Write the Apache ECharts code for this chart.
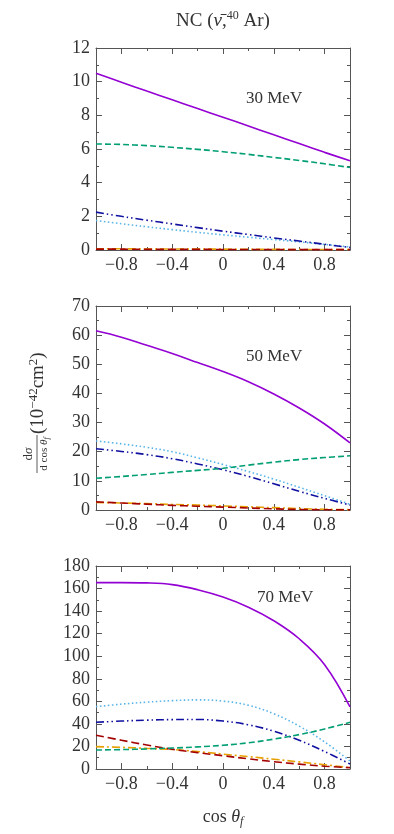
<!DOCTYPE html>
<html>
<head>
<meta charset="utf-8">
<script src="https://cdn.jsdelivr.net/npm/echarts@6.0.0/dist/echarts.min.js"></script>
<style>
  html, body { margin: 0; padding: 0; background: #fff; }
  #chart { width: 394px; height: 834px; }
</style>
</head>
<body>
<div id="chart"></div>
<script>
// cos(theta_f) sample points, shared by every curve
var cosTheta = [-1, -0.8, -0.6, -0.4, -0.2, 0, 0.2, 0.4, 0.6, 0.8, 1];

// 30 MeV
var p30Purple = [10.5, 9.97, 9.44, 8.92, 8.4, 7.89, 7.37, 6.84, 6.32, 5.8, 5.3];
var p30Green = [6.3, 6.27, 6.2, 6.1, 5.98, 5.84, 5.68, 5.5, 5.32, 5.12, 4.9];
var p30Navy = [2.25, 2.0, 1.77, 1.55, 1.33, 1.12, 0.92, 0.72, 0.53, 0.34, 0.15];
var p30Sky = [1.75, 1.56, 1.38, 1.21, 1.05, 0.9, 0.76, 0.62, 0.48, 0.33, 0.18];
var p30Red = [0.05, 0.05, 0.04, 0.04, 0.04, 0.03, 0.03, 0.03, 0.02, 0.02, 0.02];
var p30Orange = [0.07, 0.07, 0.06, 0.06, 0.05, 0.05, 0.04, 0.04, 0.03, 0.03, 0.03];

// 50 MeV
var p50Purple = [61.5, 59.3, 56.5, 53.7, 50.6, 47.5, 44, 39.8, 35, 29.5, 23];
var p50Green = [10.9, 11.5, 12.2, 12.9, 13.6, 14.3, 15.4, 16.4, 17.3, 18.0, 18.6];
var p50Navy = [21.0, 20.1, 19.0, 17.6, 15.8, 13.8, 11.5, 9.0, 6.4, 4.0, 1.7];
var p50Sky = [23.7, 22.7, 21.5, 20.0, 17.9, 15.6, 13.2, 10.6, 7.8, 4.9, 2.0];
var p50Red = [2.8, 2.4, 2.0, 1.6, 1.3, 1.0, 0.7, 0.4, 0.2, 0.08, 0.04];
var p50Orange = [2.6, 2.4, 2.2, 1.9, 1.7, 1.4, 1.1, 0.8, 0.5, 0.25, 0.1];

// 70 MeV
var p70Purple = [165.3, 165.3, 165, 163.5, 159, 152.5, 143.5, 131.5, 115.5, 92.5, 55];
var p70Green = [16.8, 17.2, 17.8, 18.6, 19.6, 21.0, 23.2, 26.5, 30.5, 35.5, 41.4];
var p70Navy = [41.4, 42.5, 43.3, 43.8, 43.9, 42.5, 39.2, 33.5, 25.5, 15.5, 4.4];
var p70Sky = [55.3, 57.5, 59.3, 60.6, 61.3, 60.2, 56.5, 49, 38, 24, 7];
var p70Red = [30, 25.5, 21.3, 17.5, 14.5, 11.8, 9.0, 6.5, 4.3, 2.5, 1.2];
var p70Orange = [19.8, 19.2, 18.3, 17.3, 15.5, 13.2, 11.0, 8.7, 6.3, 3.8, 1.2];

var panelLabels = ["30 MeV", "50 MeV", "70 MeV"];
var yMax = [12, 70, 180];
var yStep = [2, 10, 20];
var xMajor = [-0.8, -0.4, 0, 0.4, 0.8];
var xMinor = [-0.6, -0.2, 0.2, 0.6];

var panels = [
  [p30Purple, p30Green, p30Navy, p30Sky, p30Red, p30Orange],
  [p50Purple, p50Green, p50Navy, p50Sky, p50Red, p50Orange],
  [p70Purple, p70Green, p70Navy, p70Sky, p70Red, p70Orange],
];

// line looks, same order as the arrays above
var looks = [
  { color: "#9400d3", type: "solid" },
  { color: "#009e73", type: [6, 3] },
  { color: "#1010a0", type: [8, 3, 1.5, 3, 1.5, 3] },
  { color: "#56b4e9", type: [1.5, 2.5] },
  { color: "#a50000", type: [8, 4] },
  { color: "#e6a000", type: [8, 3, 2, 3] },
];

var FONT = "'Liberation Serif', 'DejaVu Serif', serif";
var INK = "#333";
var FRAME = "#555";
var grids = [
  { left: 96, top: 48, width: 254, height: 202 },
  { left: 96, top: 306, width: 254, height: 204 },
  { left: 96, top: 566, width: 254, height: 203 },
];

function minus(v) {
  return String(v).replace("-", "\u2212");
}

var xAxes = [];
var yAxes = [];
var series = [];

grids.forEach(function (g, i) {
  ["bottom", "top"].forEach(function (pos) {
    // major ticks (and labels on the bottom)
    xAxes.push({
      type: "value",
      gridIndex: i,
      position: pos,
      min: -1,
      max: 1,
      axisLine: { show: true, onZero: false, lineStyle: { color: FRAME, width: 1 } },
      axisTick: { show: true, inside: true, length: 6, customValues: xMajor, lineStyle: { color: FRAME } },
      axisLabel: {
        show: pos === "bottom",
        customValues: xMajor,
        margin: 6,
        fontFamily: FONT,
        fontSize: 18,
        color: INK,
        formatter: minus,
      },
      splitLine: { show: false },
    });
    // minor ticks
    xAxes.push({
      type: "value",
      gridIndex: i,
      position: pos,
      min: -1,
      max: 1,
      axisLine: { show: false, onZero: false },
      axisTick: { show: true, inside: true, length: 3, customValues: xMinor, lineStyle: { color: FRAME } },
      axisLabel: { show: false },
      splitLine: { show: false },
    });
  });

  ["left", "right"].forEach(function (pos) {
    yAxes.push({
      type: "value",
      gridIndex: i,
      position: pos,
      min: 0,
      max: yMax[i],
      interval: yStep[i],
      axisLine: { show: true, onZero: false, lineStyle: { color: FRAME, width: 1 } },
      axisTick: { show: true, inside: true, length: 6, lineStyle: { color: FRAME } },
      minorTick: { show: true, splitNumber: 2, length: 3, lineStyle: { color: FRAME } },
      axisLabel: {
        show: pos === "left",
        margin: 6,
        fontFamily: FONT,
        fontSize: 18,
        color: INK,
      },
      splitLine: { show: false },
    });
  });

  panels[i].forEach(function (vals, k) {
    series.push({
      type: "line",
      xAxisIndex: i * 4,
      yAxisIndex: i * 2,
      showSymbol: false,
      smooth: 0.4,
      z: 10 - k,
      lineStyle: { color: looks[k].color, type: looks[k].type, width: 1.6 },
      data: cosTheta.map(function (c, j) {
        return [c, vals[j]];
      }),
    });
  });
});

var chart = echarts.init(document.getElementById("chart"));

chart.setOption({
  backgroundColor: "#fff",
  animation: false,
  grid: grids,
  xAxis: xAxes,
  yAxis: yAxes,
  series: series,
  graphic: [
    {
      type: "text",
      x: 223,
      y: 21,
      style: {
        text: "NC ({i|\u03bd\u0304},{sup|40} Ar)",
        rich: {
          i: { fontStyle: "italic", fontFamily: FONT, fontSize: 19, fill: INK },
          sup: { fontFamily: FONT, fontSize: 12, fill: INK, verticalAlign: "top", lineHeight: 22, padding: [0, 0, 6, 0] },
        },
        font: "19px " + FONT,
        fill: INK,
        align: "center",
        verticalAlign: "middle",
      },
    },
    {
      type: "text",
      x: 246,
      y: 99,
      style: { text: panelLabels[0], font: "17px " + FONT, fill: INK, verticalAlign: "middle" },
    },
    {
      type: "text",
      x: 246,
      y: 357,
      style: { text: panelLabels[1], font: "17px " + FONT, fill: INK, verticalAlign: "middle" },
    },
    {
      type: "text",
      x: 257,
      y: 598,
      style: { text: panelLabels[2], font: "17px " + FONT, fill: INK, verticalAlign: "middle" },
    },
    {
      type: "text",
      x: 223,
      y: 817,
      style: {
        text: "cos {i|\u03b8}{s|f}",
        font: "18px " + FONT,
        fill: INK,
        align: "center",
        verticalAlign: "middle",
        rich: {
          i: { fontStyle: "italic", fontFamily: FONT, fontSize: 18, fill: INK, lineHeight: 22 },
          s: { fontStyle: "italic", fontFamily: FONT, fontSize: 12, fill: INK, verticalAlign: "bottom", lineHeight: 22, padding: [7, 0, 0, 0] },
        },
      },
    },
    {
      type: "group",
      x: 37,
      y: 454,
      rotation: Math.PI / 2,
      children: [
        {
          type: "text",
          x: 0,
          y: -2,
          style: {
            text: "d{i|\u03c3}",
            font: "13px " + FONT,
            fill: INK,
            align: "center",
            verticalAlign: "bottom",
            rich: { i: { fontStyle: "italic", fontFamily: FONT, fontSize: 13, fill: INK } },
          },
        },
        {
          type: "line",
          shape: { x1: -19, y1: 0, x2: 19, y2: 0 },
          style: { stroke: INK, lineWidth: 0.8 },
        },
        {
          type: "text",
          x: 0,
          y: 1,
          style: {
            text: "d cos {i|\u03b8}{s|f}",
            font: "11px " + FONT,
            fill: INK,
            align: "center",
            verticalAlign: "top",
            rich: {
              i: { fontStyle: "italic", fontFamily: FONT, fontSize: 11, fill: INK, lineHeight: 13 },
              s: { fontStyle: "italic", fontFamily: FONT, fontSize: 8, fill: INK, verticalAlign: "bottom", lineHeight: 13, padding: [4, 0, 0, 0] },
            },
          },
        },
        {
          type: "text",
          x: 20,
          y: 1,
          style: {
            text: "(10{sup|\u221242}cm{sup|2})",
            font: "19px " + FONT,
            fill: INK,
            align: "left",
            verticalAlign: "middle",
            rich: {
              sup: { fontFamily: FONT, fontSize: 13, fill: INK, verticalAlign: "top", lineHeight: 22, padding: [0, 0, 7, 0] },
            },
          },
        },
      ],
    },
  ],
});
</script>
</body>
</html>
